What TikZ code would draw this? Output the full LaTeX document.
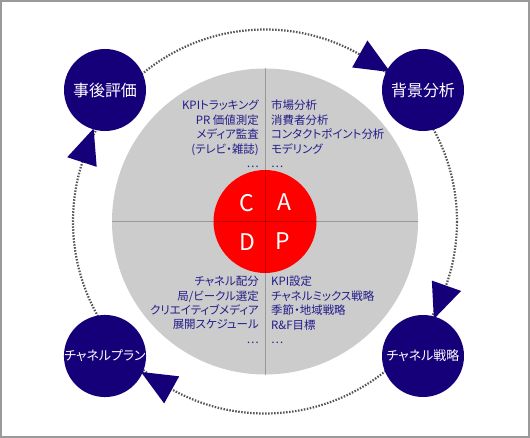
\documentclass[tikz,border=0pt]{standalone}
\usepackage{fontspec}
\newfontfamily\jpfont[RawFeature=+palt]{Noto Sans CJK JP}
\usetikzlibrary{positioning}

\definecolor{stageblue}{HTML}{16007A}
\definecolor{notetext}{HTML}{231C8A}
\definecolor{ringgray}{HTML}{CCCCCC}
\definecolor{dotgray}{HTML}{555555}
\definecolor{framegray}{HTML}{9A9A9A}

\begin{document}
\begin{tikzpicture}[
  cycstage/.style  = {circle, fill=stageblue, minimum size=82bp, inner sep=0pt, text=white, font=\jpfont\fontsize{16}{18}\selectfont},
  cycstagek/.style = {cycstage, font=\jpfont\fontsize{13}{15}\selectfont},
  cycnote/.style   = {inner sep=0pt, text=notetext, font=\jpfont\fontsize{11.5}{14.5}\selectfont},
  cycletter/.style = {inner sep=0pt, text=white, font=\jpfont\fontsize{23}{25}\selectfont},
  cycring/.style   = {draw=dotgray, line width=2.2bp, dash pattern=on 1.5bp off 1.5bp},
  cyctip/.style    = {fill=stageblue},
  cycaxis/.style   = {draw=black, opacity=0.25, line width=0.9bp},
  x=1bp, y=-1bp,
]

  \useasboundingbox (0,0) rectangle (530,438);
  \draw[framegray, line width=1.6bp] (0.8,0.8) rectangle (529.2,437.2);

  % hub of the cycle
  \coordinate (hub) at (265,221.5);
  \draw[cycring] (hub) circle (192);
  \fill[ringgray] (hub) circle (153);
  \node[circle, fill=red, minimum size=103bp, inner sep=0pt] (core) at (hub) {};
  \draw[cycaxis] ([xshift=-153bp]hub) -- ([xshift=153bp]hub);
  \draw[cycaxis] ([yshift=153bp]hub) -- ([yshift=-153bp]hub);

  \node[cycletter] (lblC) at (247,203) {C};
  \node[cycletter] (lblA) at (284,202) {A};
  \node[cycletter] (lblD) at (247,242) {D};
  \node[cycletter] (lblP) at (283,241) {P};

  \node[cycnote, anchor=north east, align=right] (chkNotes) at (259,100)
    {KPIトラッキング\\PR 価値測定\\メディア監査\\(テレビ・雑誌)\\…};
  \node[cycnote, anchor=north west, align=left] (actNotes) at (271,100)
    {市場分析\\消費者分析\\コンタクトポイント分析\\モデリング\\…};
  \node[cycnote, anchor=north east, align=right] (doNotes) at (259,276)
    {チャネル配分\\局/ビークル選定\\クリエイティブメディア\\展開スケジュール\\…};
  \node[cycnote, anchor=north west, align=left] (planNotes) at (271,276)
    {KPI設定\\チャネルミックス戦略\\季節・地域戦略\\R\&F目標\\…};

  % arrow tips on the ring, clockwise
  \foreach \t in {-141,-39.5,40.5,140}
    \fill[cyctip, shift={(hub)}] (\t-21:208) -- (\t-21:177) -- (\t-10.5:195) -- cycle;

  \node[cycstage] (review) at (105,90) {事後評価};
  \node[cycstage] (survey) at (423,90) {背景分析};
  \node[cycstagek] (strategy) at (423,356) {チャネル戦略};
  \node[cycstagek] (plan) at (105,356) {チャネルプラン};
\end{tikzpicture}
\end{document}
